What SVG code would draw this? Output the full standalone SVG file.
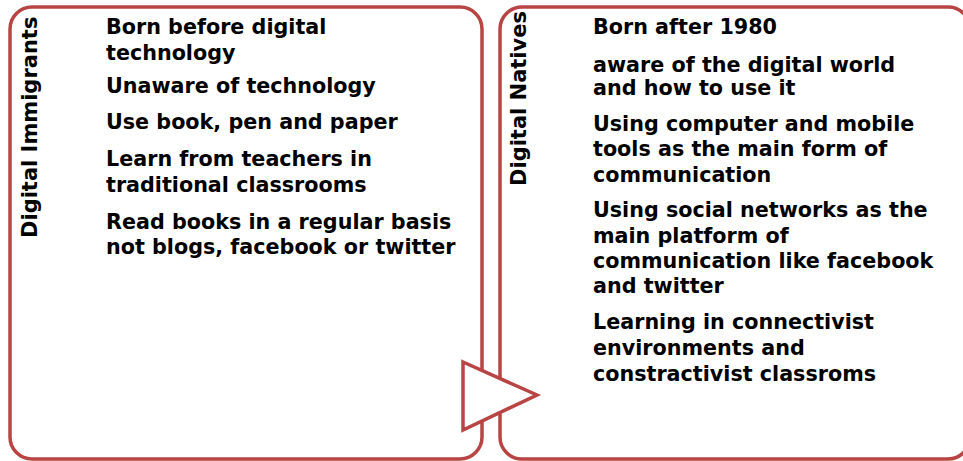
<svg xmlns="http://www.w3.org/2000/svg" width="963" height="461" viewBox="0 0 963 461">
<style>
.box{fill:#ffffff;stroke:#B84444;stroke-width:3.5}
.t{font-family:"DejaVu Sans",Verdana,sans-serif;font-weight:bold;font-size:20.7px;fill:#000000}
.h{font-family:"DejaVu Sans",Verdana,sans-serif;font-weight:bold;font-size:21px;fill:#000000}
</style>
<rect width="963" height="461" fill="#ffffff"/>
<g id="immigrants">
<rect class="box" x="10" y="7" width="472" height="452" rx="22" ry="22"/>
<text class="h" transform="translate(37,238) rotate(-90)">Digital Immigrants</text>
<text class="t" x="106" y="34">Born before digital</text>
<text class="t" x="106" y="60">technology</text>
<text class="t" x="106" y="93">Unaware of technology</text>
<text class="t" x="106" y="129">Use book, pen and paper</text>
<text class="t" x="106" y="166">Learn from teachers in</text>
<text class="t" x="106" y="192">traditional classrooms</text>
<text class="t" x="106" y="229">Read books in a regular basis</text>
<text class="t" x="106" y="254">not blogs, facebook or twitter</text>
</g>
<g id="natives">
<rect class="box" x="500" y="7" width="470" height="452" rx="22" ry="22"/>
<text class="h" transform="translate(526,186) rotate(-90)">Digital Natives</text>
<text class="t" x="593" y="34">Born after 1980</text>
<text class="t" x="593" y="72">aware of the digital world</text>
<text class="t" x="593" y="95">and how to use it</text>
<text class="t" x="593" y="131">Using computer and mobile</text>
<text class="t" x="593" y="156">tools as the main form of</text>
<text class="t" x="593" y="182">communication</text>
<text class="t" x="593" y="217">Using social networks as the</text>
<text class="t" x="593" y="243">main platform of</text>
<text class="t" x="593" y="268">communication like facebook</text>
<text class="t" x="593" y="293">and twitter</text>
<text class="t" x="593" y="329">Learning in connectivist</text>
<text class="t" x="593" y="355">environments and</text>
<text class="t" x="593" y="381">constractivist classroms</text>
</g>
<g id="connectors">
<polygon points="463,362 537,395 463,430" fill="#ffffff" stroke="#B84444" stroke-width="3.5" stroke-linejoin="miter"/>
</g>
</svg>
